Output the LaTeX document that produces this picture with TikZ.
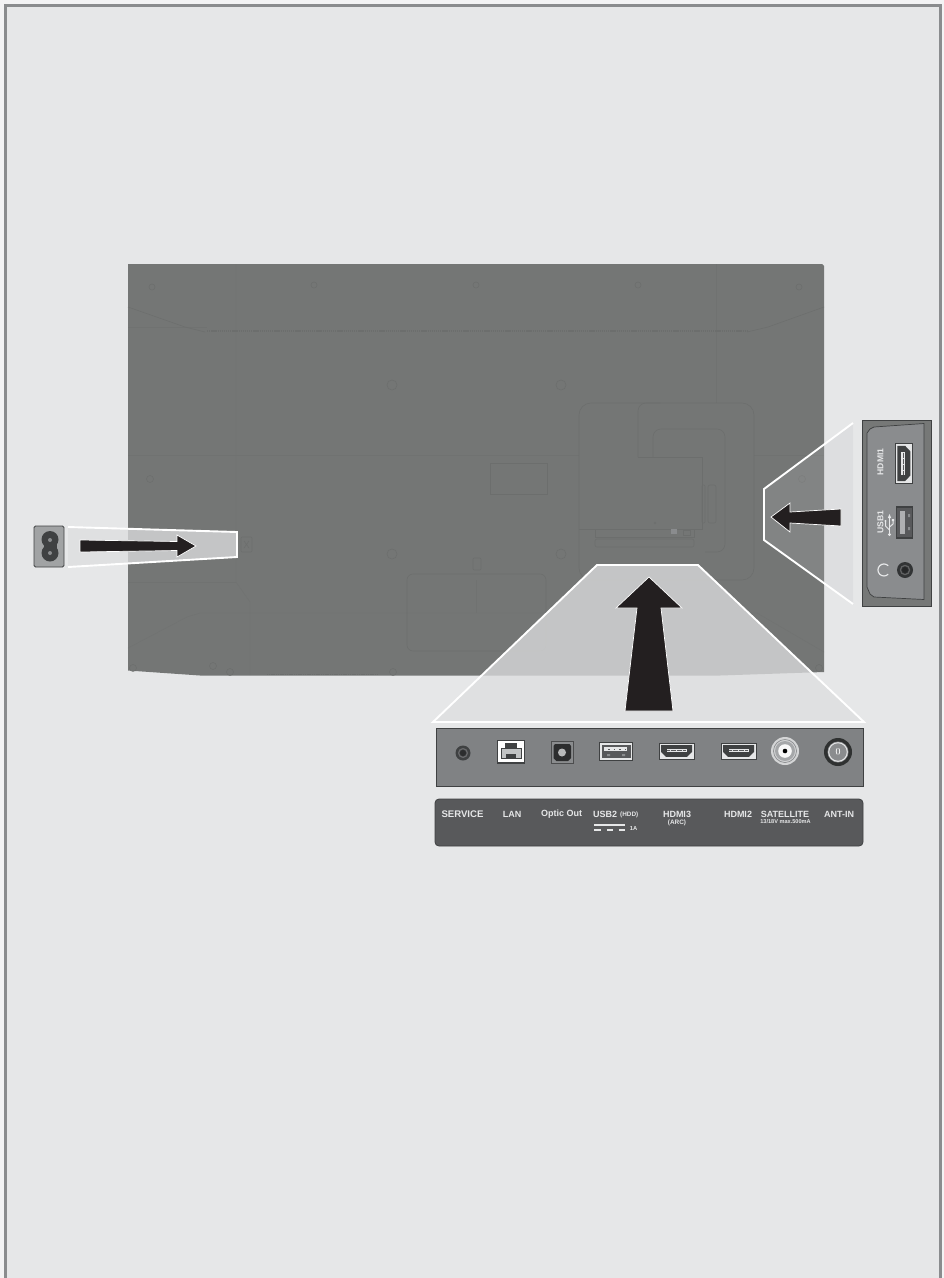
\documentclass[tikz,border=0pt]{standalone}
\usepackage{xcolor}
\usepackage{fontspec}
\setmainfont{Liberation Sans}

\definecolor{pagebg}{HTML}{E6E7E8}
\definecolor{framegray}{HTML}{8A8C8E}
\definecolor{tvgray}{HTML}{747675}
\definecolor{tvline}{HTML}{6C6E6D}
\definecolor{tvfaint}{HTML}{707271}
\definecolor{panelgray}{HTML}{808284}
\definecolor{labelbar}{HTML}{58595B}
\definecolor{arrowblack}{HTML}{231F20}
\definecolor{portdark}{HTML}{3F4142}

% one HDMI socket, 35 wide and 16 high in its own axes
\newcommand{\hdmiport}{%
  \draw[draw=portdark, line width=0.9pt, fill=pagebg] (0,0) rectangle (35,16);
  \fill[portdark] (2,2.2) -- (33,2.2) -- (33,9) -- (28,13.8) -- (7,13.8) -- (2,9) -- cycle;
  \fill[pagebg] (7.5,5.6) rectangle (27.5,8.8);
  \draw[labelbar, line width=0.8pt, dash pattern=on 0.6pt off 0.6pt] (8,7.2) -- (27,7.2);
}

\begin{document}
\begin{tikzpicture}[x=1pt, y=-1pt,
    tvdetail/.style={draw=tvline, line width=0.55pt},
    tvghost/.style={draw=tvfaint, line width=0.4pt},
    callout/.style={draw=white, line width=1.9pt, line join=miter},
    bigarrow/.style={draw=white, line width=0.7pt, fill=arrowblack, line join=miter},
    portname/.style={text=pagebg, font=\fontsize{9}{9}\selectfont\bfseries, inner sep=0pt},
    portnote/.style={text=pagebg, font=\fontsize{6.4}{6.4}\selectfont\bfseries, inner sep=0pt},
    whiteline/.style={draw=pagebg, line width=1.3pt}]
  \useasboundingbox (0,0) rectangle (944,1278);

  % Page and frame
  \fill[white!50!pagebg] (0,0) rectangle (944,1278);
  \fill[pagebg] (5.5,5.5) rectangle (940.5,1278);
  \draw[framegray, line width=3pt] (5.5,1278) -- (5.5,5.5) -- (940.5,5.5) -- (940.5,1278);

  % TV back
  \fill[tvgray] (128,264) -- (822,264) -- (824,266) -- (824,672) -- (720,675.5) -- (200,675.5) -- (128,670.5) -- cycle;

  % Faint construction lines
  \draw[tvghost] (236,264) -- (236,582) -- (250,602) -- (250,675);
  \draw[tvghost] (716,264) -- (716,403);
  \draw[tvghost] (128,327) -- (207,327);
  \draw[tvghost] (128,455) -- (579,455);
  \draw[tvghost] (754,455) -- (824,455);
  \draw[tvghost] (128,582) -- (236,582);
  \draw[tvghost] (128,648) -- (187,617) -- (200,613) -- (757,613) -- (824,652);
  \draw[tvghost] (476,580) -- (476,613);

  % Shoulder of the cabinet
  \draw[tvdetail] (128,307) -- (185,327) -- (205,332);
  \draw[tvdetail] (824,307) -- (768,327) -- (747,332);
  \draw[tvline, line width=2.2pt, dash pattern=on 1.3pt off 0.8pt] (207,331) -- (747,331);
  \draw[tvline, line width=1.4pt, dash pattern=on 1.2pt off 0.6pt] (267,674.4) -- (378,674.4);

  % Screw holes
  \foreach \px/\py/\rad in {152/287/3, 314/285/3, 476/285/3, 638/285/3, 799/287/3,
      392/385/5, 561/385/5, 392/554/5, 561/554/5, 150/479/3.5, 802/479/3.5,
      133/668/3.5, 213/666/3.5, 230/672/3.5, 393/672/3.5, 819/668/3.5}
    \draw[tvdetail] (\px,\py) circle (\rad);

  % Covers on the back
  \draw[tvdetail, rounded corners=6pt] (407,574) rectangle (546,651);
  \draw[tvdetail] (490,463) rectangle (547,494);
  \draw[tvdetail, rounded corners=1pt] (473,558) rectangle (481,570);
  \draw[tvdetail, rounded corners=1pt] (241,537) rectangle (252,552);
  \draw[tvdetail] (244,541) -- (249,548) (249,541) -- (244,548);
  \draw[tvdetail, rounded corners=12pt] (579,403) rectangle (754,580);
  \draw[tvdetail, rounded corners=8pt] (638,457) -- (638,403) -- (660,403);
  \draw[tvdetail, rounded corners=8pt] (653,457) -- (653,429) -- (725,429) -- (725,552) -- (705,552);
  \draw[tvdetail] (638,457) -- (702,457) -- (702,529) -- (579,529);
  \draw[tvdetail] (595,529) rectangle (694,537);
  \draw[tvdetail, rounded corners=2pt] (595,539) rectangle (694,547);
  \fill[framegray] (671,529) rectangle (677,534);
  \draw[tvdetail] (683,530) rectangle (690,535);
  \draw[tvdetail, rounded corners=1pt] (702,485) rectangle (705,523);
  \draw[tvdetail, rounded corners=2pt] (708,485) rectangle (716,523);
  \fill[tvline] (655,523) circle (1.2);

  % Callouts
  \fill[pagebg!96!black, opacity=0.77] (68,527) -- (237,532) -- (237,557) -- (68,567) -- cycle;
  \draw[callout] (68,527) -- (237,532) -- (237,557) -- (68,567);
  \fill[pagebg!96!black, opacity=0.77] (597,565) -- (698,565) -- (864,722) -- (433,722) -- cycle;
  \draw[callout] (433,722) -- (597,565) -- (698,565) -- (864,722) -- cycle;
  \fill[framegray!45!pagebg, opacity=0.2] (853,423) -- (764,489) -- (764,540) -- (853,604) -- cycle;
  \draw[callout] (853,423) -- (764,489) -- (764,540) -- (853,604);

  % Arrows
  \draw[bigarrow] (80,540) -- (177,541.5) -- (177,535) -- (196,546) -- (177,557) -- (177,550.5) -- (80,552) -- cycle;
  \draw[bigarrow] (625,711) -- (637,608) -- (616,608) -- (649,577) -- (682,608) -- (661,608) -- (673,711) -- cycle;
  \draw[bigarrow] (841,509) -- (790,512) -- (790,503) -- (771,517) -- (790,532) -- (790,523) -- (841,526) -- cycle;

  % Mains socket
  \draw[draw=portdark, line width=0.9pt, fill=framegray!75!pagebg, rounded corners=1.5pt] (34,526) rectangle (64,567);
  \fill[portdark] (50,539.5) circle (8.5) (50,553) circle (8.5);
  \fill[portdark] (43.5,544) rectangle (56.5,549);
  \fill[framegray] (50,540) circle (2) (50,553) circle (2);

  % Side panel
  \draw[draw=portdark, line width=0.9pt, fill=tvgray!90!framegray] (862,420) rectangle (931,606);
  \draw[draw=portdark, line width=0.7pt, fill=framegray] (924,423.5) -- (924,599.5) -- (874,597) -- (870,594) -- (867,587) -- (867,433) -- (870,429) -- (874,427) -- cycle;
  \node[portname, font=\fontsize{8.6}{8.6}\selectfont\bfseries, rotate=90] (hdmione) at (880.5,462) {HDMI1};
  \node[portname, font=\fontsize{8.6}{8.6}\selectfont\bfseries, rotate=90] (usbone) at (880.5,522) {USB1};
  \begin{scope}[shift={(895,443.5)}, x={(0pt,-1.14pt)}, y={(1.12pt,0pt)}]
    \hdmiport
  \end{scope}

  % USB1 socket and its symbol
  \draw[draw=portdark, line width=1.1pt, fill=labelbar] (896.5,507) rectangle (912.5,538);
  \fill[framegray!60!pagebg] (900,511) rectangle (905,534);
  \fill[framegray] (908,514) rectangle (910,517) (908,527) rectangle (910,530);
  \draw[pagebg, line width=1pt] (889.5,517) -- (889.5,533);
  \draw[pagebg, line width=1pt] (889.5,530) -- (885.5,526) -- (885.5,522);
  \draw[pagebg, line width=1pt] (889.5,527) -- (893,524) -- (893,521);
  \fill[pagebg] (889.5,514) -- (887.8,518) -- (891.2,518) -- cycle;
  \fill[pagebg] (889.5,534.5) circle (1.7) (885.5,521) circle (1.2) (891.9,519) rectangle (894.1,521);

  % Headphone jack
  \draw[pagebg, line width=1.2pt] (888.2,574.2) arc (45:315:6);
  \fill[portdark!80!black] (905,570) circle (8);
  \draw[framegray!70!black, line width=1.2pt] (905,570) circle (4.6);
  \fill[portdark!60!black] (905,570) circle (3);

  % Rear panel
  \draw[draw=portdark, line width=0.8pt, fill=panelgray] (436,728) rectangle (863,786);

  % Service jack
  \fill[portdark] (463,753) circle (7.5);
  \draw[framegray!75!black, line width=1.2pt] (463,753) circle (4.4);
  \fill[portdark!70!black] (463,753) circle (3);

  % LAN socket
  \draw[draw=portdark, line width=1.1pt, fill=white] (497.5,740.5) rectangle (524.5,763);
  \fill[portdark] (505,742.5) rectangle (517,749);
  \draw[draw=portdark, line width=0.9pt, fill=framegray!40!pagebg] (501.5,748.5) rectangle (521.5,758.5);
  \fill[portdark] (506,753.5) rectangle (516,758.5);

  % Optical socket
  \draw[draw=framegray!55!black, line width=0.9pt, fill=framegray] (551.5,741.5) rectangle (573,763);
  \fill[portdark!70!black] (555,744) -- (569.5,744) -- (571,746) -- (571,758) -- (568,761) -- (556.5,761) -- (553.5,758) -- (553.5,746) -- cycle;
  \fill[pagebg!80!black] (562,752.5) circle (4);

  % USB2 socket
  \draw[draw=portdark, line width=0.8pt, fill=pagebg] (599.5,742.5) rectangle (632.5,760);
  \fill[labelbar] (601.5,744.5) rectangle (630.5,758);
  \fill[pagebg] (604,746.5) rectangle (627,751);
  \fill[framegray] (607,754) rectangle (610,756) (622,754) rectangle (625,756);
  \draw[labelbar, line width=0.8pt, dash pattern=on 1.6pt off 4pt] (608,749.4) -- (626,749.4);

  % HDMI sockets
  \begin{scope}[shift={(659,743)}]
    \hdmiport
  \end{scope}
  \begin{scope}[shift={(721,743)}]
    \hdmiport
  \end{scope}

  % Satellite socket
  \fill[pagebg!80!framegray] (785,751) circle (14);
  \draw[framegray, line width=0.7pt] (785,751) circle (11.5);
  \fill[framegray!70!pagebg] (785,751) circle (10);
  \fill[white!70!pagebg] (785,751) circle (6.8);
  \fill[black] (785,751) circle (2.3);

  % Antenna socket
  \fill[portdark!75!black] (838,752) circle (14);
  \fill[framegray] (838,752) circle (10.5);
  \draw[pagebg, line width=1pt] (838,752) circle (9.3);
  \node[text=white, inner sep=0pt, font=\fontsize{6.5}{6.5}\selectfont\bfseries] (antcore) at (838,751.6) {(\kern0.5pt)};

  % Label bar
  \draw[draw=portdark, line width=0.8pt, fill=labelbar, rounded corners=4pt] (435,799) rectangle (863,846);
  \node[portname, font=\fontsize{9.6}{9.6}\selectfont\bfseries] (service) at (462.5,814) {SERVICE};
  \node[portname] (lan) at (512,814) {LAN};
  \node[portname] (optic) at (561.5,814) {Optic Out};
  \node[portname, anchor=west] (usbtwo) at (593,814) {USB2};
  \node[portnote, anchor=west] (hdd) at (620,814.6) {(HDD)};
  \node[portnote, font=\fontsize{5.8}{5.8}\selectfont\bfseries] (onea) at (633.5,828) {1A};
  \node[portname] (hdmithree) at (677,814) {HDMI3};
  \node[portnote] (arc) at (677,823) {(ARC)};
  \node[portname] (hdmitwo) at (738,814) {HDMI2};
  \node[portname] (satellite) at (785,814) {SATELLITE};
  \node[portnote, font=\fontsize{5.6}{5.6}\selectfont\bfseries] (satnote) at (785.5,822) {13/18V max.500mA};
  \node[portname] (antin) at (839,814) {ANT-IN};

  % DC mark
  \draw[whiteline] (594,825) -- (625,825);
  \draw[whiteline] (594,830) -- (601,830) (607,830) -- (613,830) (619,830) -- (625,830);
\end{tikzpicture}
\end{document}
